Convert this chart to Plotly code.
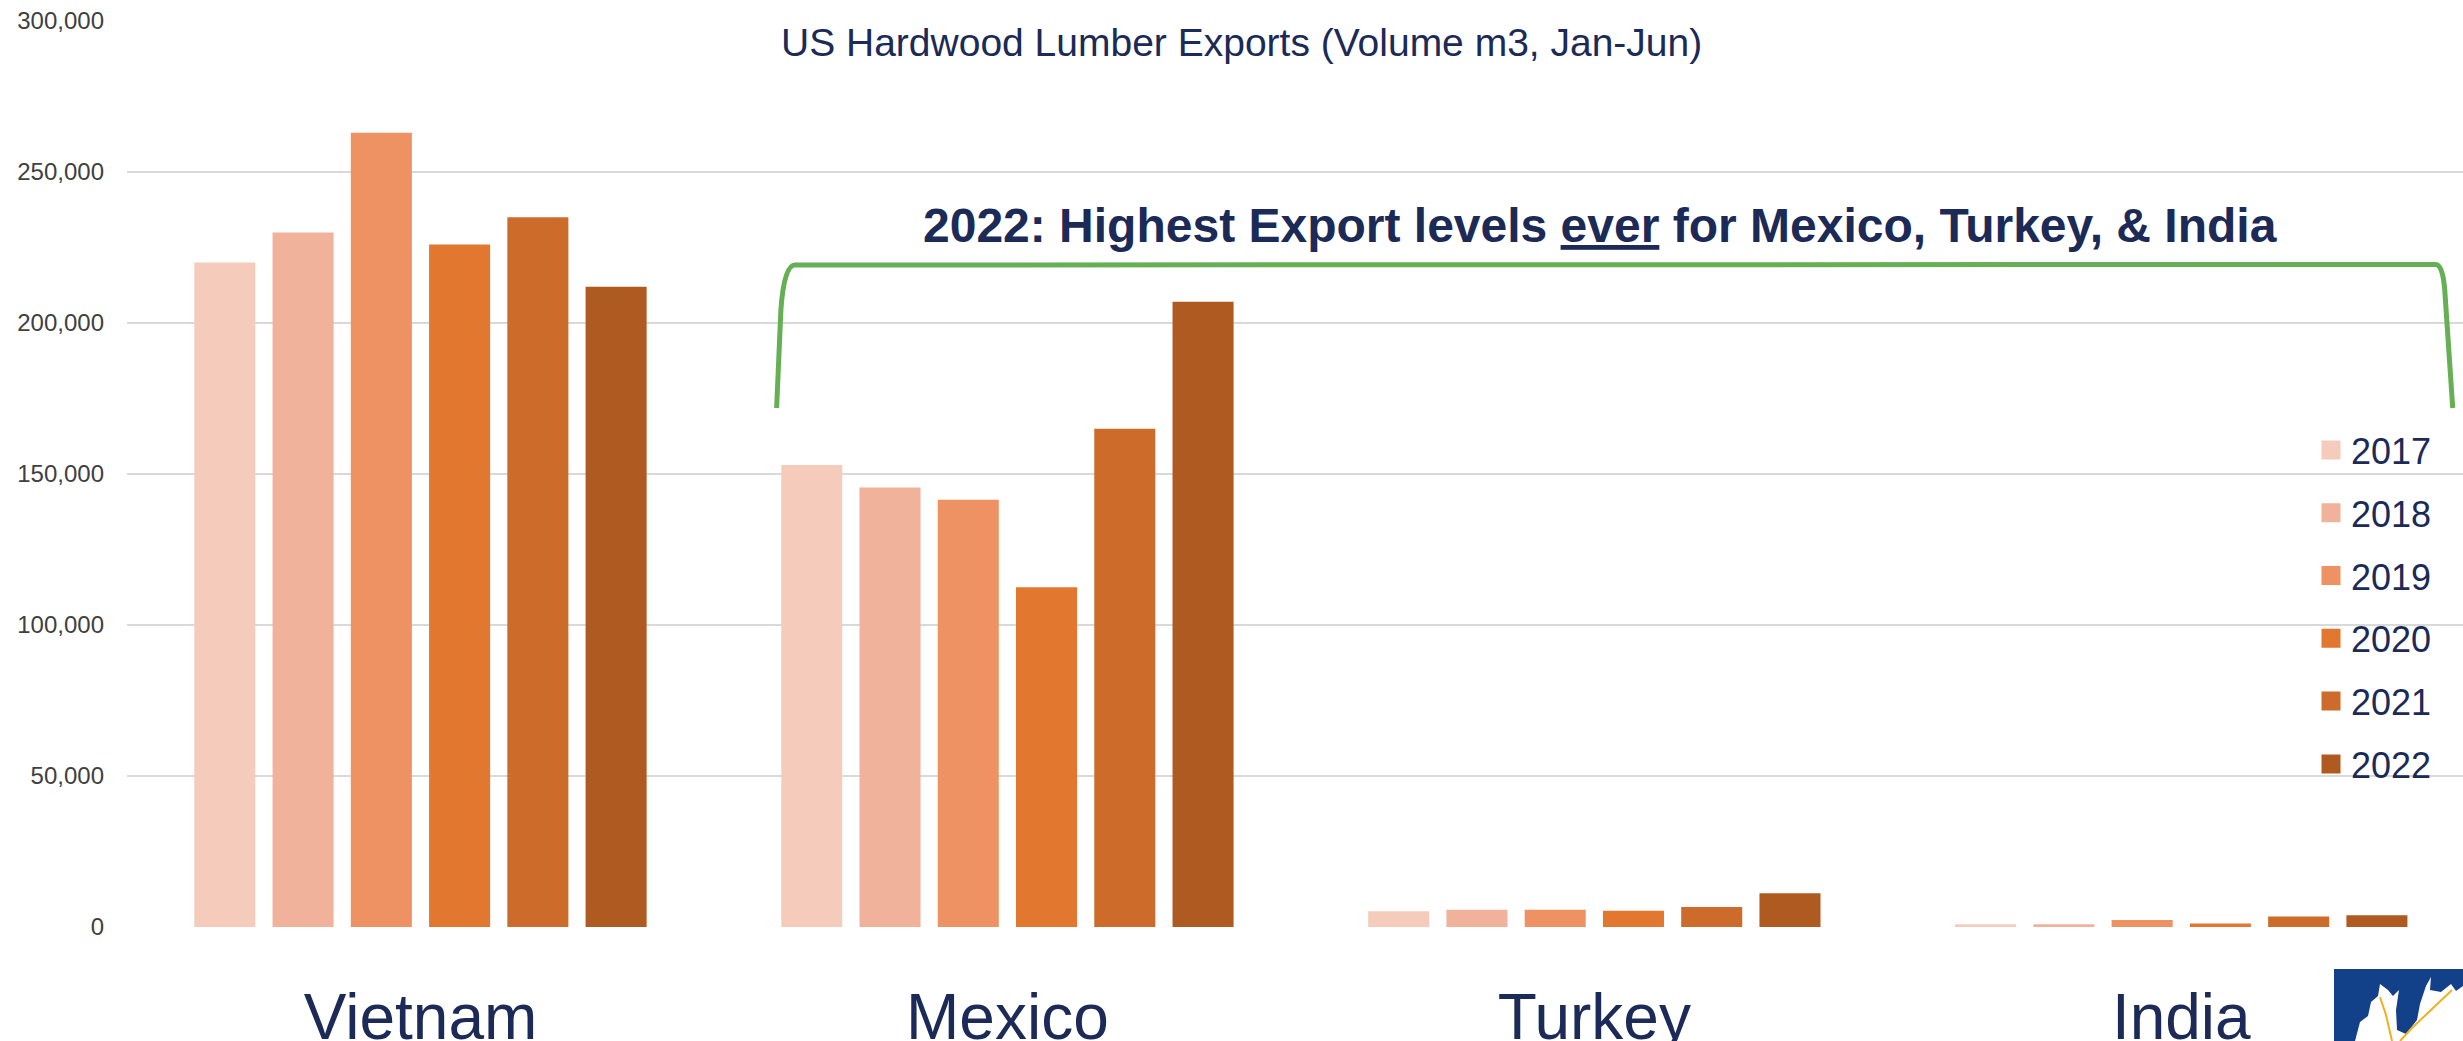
import plotly.graph_objects as go

# ---------------- data ----------------
countries = ["Vietnam", "Mexico", "Turkey", "India"]
years = ["2017", "2018", "2019", "2020", "2021", "2022"]
vol_2017 = [220000, 153000, 5200, 900]
vol_2018 = [230000, 145500, 5700, 900]
vol_2019 = [263000, 141500, 5700, 2300]
vol_2020 = [226000, 112500, 5400, 1200]
vol_2021 = [235000, 165000, 6600, 3500]
vol_2022 = [212000, 207000, 11200, 3900]
series = [vol_2017, vol_2018, vol_2019, vol_2020, vol_2021, vol_2022]
colors = ["#F5CCBC", "#F1B29B", "#EE9264", "#E2772F", "#CC6B2A", "#AF5A21"]
y_ticks = [0, 50000, 100000, 150000, 200000, 250000, 300000]

title_text = "US Hardwood Lumber Exports (Volume m3, Jan-Jun)"
callout_text = "<b>2022: Highest Export levels <u>ever</u> for Mexico, Turkey, &amp; India</b>"

NAVY = "#1B2A56"
FONT = "Arial, Liberation Sans, sans-serif"

W_FIG, H_FIG = 2463, 1041
M_L, M_R, M_T, M_B = 127, 0, 21, 114
PW = W_FIG - M_L - M_R
PH = H_FIG - M_T - M_B


def paper(px, py):
    return (px - M_L) / PW, (H_FIG - M_B - py) / PH


fig = go.Figure()
for yr, vals, col in zip(years, series, colors):
    fig.add_trace(go.Bar(name=yr, x=countries, y=vals, marker_color=col,
                         marker_line_width=0, showlegend=False))
# legend entries (square markers)
for yr, col in zip(years, colors):
    fig.add_trace(go.Scatter(name=yr, x=[None], y=[None], mode="markers",
                             legendgroup=yr,
                             marker=dict(symbol="square", size=16, color=col,
                                         line=dict(color=col, width=3))))

# green bracket (data coordinates: category index, value)
bracket = ("M 0.6068,171857 L 0.6141,204307 Q 0.6193,219208 0.6380,219208 "
           "L 3.4336,219374 Q 3.4455,219374 3.4489,210930 L 3.4625,171857")
fig.add_shape(type="path", path=bracket, xref="x", yref="y",
              line=dict(color="#66AF55", width=5), layer="above")

# logo block (bottom-right)
x0, y0 = paper(2334, 969)
x1, y1 = paper(2470, 1045)
fig.add_shape(type="rect", xref="paper", yref="paper", x0=x0, y0=y0, x1=x1, y1=y1,
              fillcolor="#12418A", line_width=0, layer="above")
leaf_px = [(2355, 1041), (2360, 1022), (2368, 1016), (2371, 1002), (2378, 996),
           (2380, 984), (2388, 990), (2393, 996), (2399, 990), (2396, 1010),
           (2397, 1030), (2406, 1034), (2417, 1020), (2420, 1004), (2426, 986),
           (2431, 977), (2430, 990), (2441, 992), (2451, 984), (2456, 991),
           (2463, 986), (2463, 1041)]
pts = [paper(a, b) for a, b in leaf_px]
leaf_path = "M " + " L ".join(f"{p[0]:.5f},{p[1]:.5f}" for p in pts) + " Z"
fig.add_shape(type="path", path=leaf_path, xref="paper", yref="paper",
              fillcolor="white", line_width=0, layer="above")
for seg in [[(2392, 1041), (2386, 1015), (2380, 997)],
            [(2400, 1041), (2412, 1028), (2452, 990)]]:
    sp = [paper(a, b) for a, b in seg]
    vp = "M " + " L ".join(f"{p[0]:.5f},{p[1]:.5f}" for p in sp)
    fig.add_shape(type="path", path=vp, xref="paper", yref="paper",
                  line=dict(color="#F2B01E", width=2), layer="above")

# title + callout
tx, ty = paper(1241, 42)
fig.add_annotation(text=title_text, xref="paper", yref="paper", x=tx, y=ty,
                   xanchor="center", yanchor="middle", showarrow=False,
                   font=dict(family=FONT, size=39, color=NAVY))
cx, cy = paper(1600, 225)
fig.add_annotation(text=callout_text, xref="paper", yref="paper", x=cx, y=cy,
                   xanchor="center", yanchor="middle", showarrow=False,
                   font=dict(family=FONT, size=48, color=NAVY))

lx, ly = paper(2311, 420)
fig.update_layout(
    width=W_FIG, height=H_FIG,
    margin=dict(l=M_L, r=M_R, t=M_T, b=M_B, autoexpand=False),
    paper_bgcolor="white", plot_bgcolor="white",
    barmode="group", bargap=0.2, bargroupgap=0.22,
    font=dict(family=FONT, color=NAVY),
    legend=dict(x=lx, y=ly, xanchor="left", yanchor="top",
                font=dict(family=FONT, size=36, color=NAVY),
                bgcolor="rgba(0,0,0,0)", tracegroupgap=13,
                itemclick=False, itemdoubleclick=False),
    xaxis=dict(range=[-0.5, 3.48], showgrid=False, showline=False, zeroline=False,
               ticks="", ticklabelstandoff=47, automargin=False,
               tickfont=dict(family=FONT, size=64, color=NAVY)),
    yaxis=dict(range=[0, 300000], tickvals=y_ticks, tickformat=",",
               showgrid=True, gridcolor="#D9D9D9", gridwidth=2,
               zeroline=False, showline=False, ticks="", ticklabelstandoff=22,
               automargin=False,
               tickfont=dict(family=FONT, size=24, color="#404040")),
)

fig.write_html("out.html",
               config={"displayModeBar": False, "staticPlot": False},
               post_script="document.body.style.margin='0';document.body.style.overflow='hidden';")
